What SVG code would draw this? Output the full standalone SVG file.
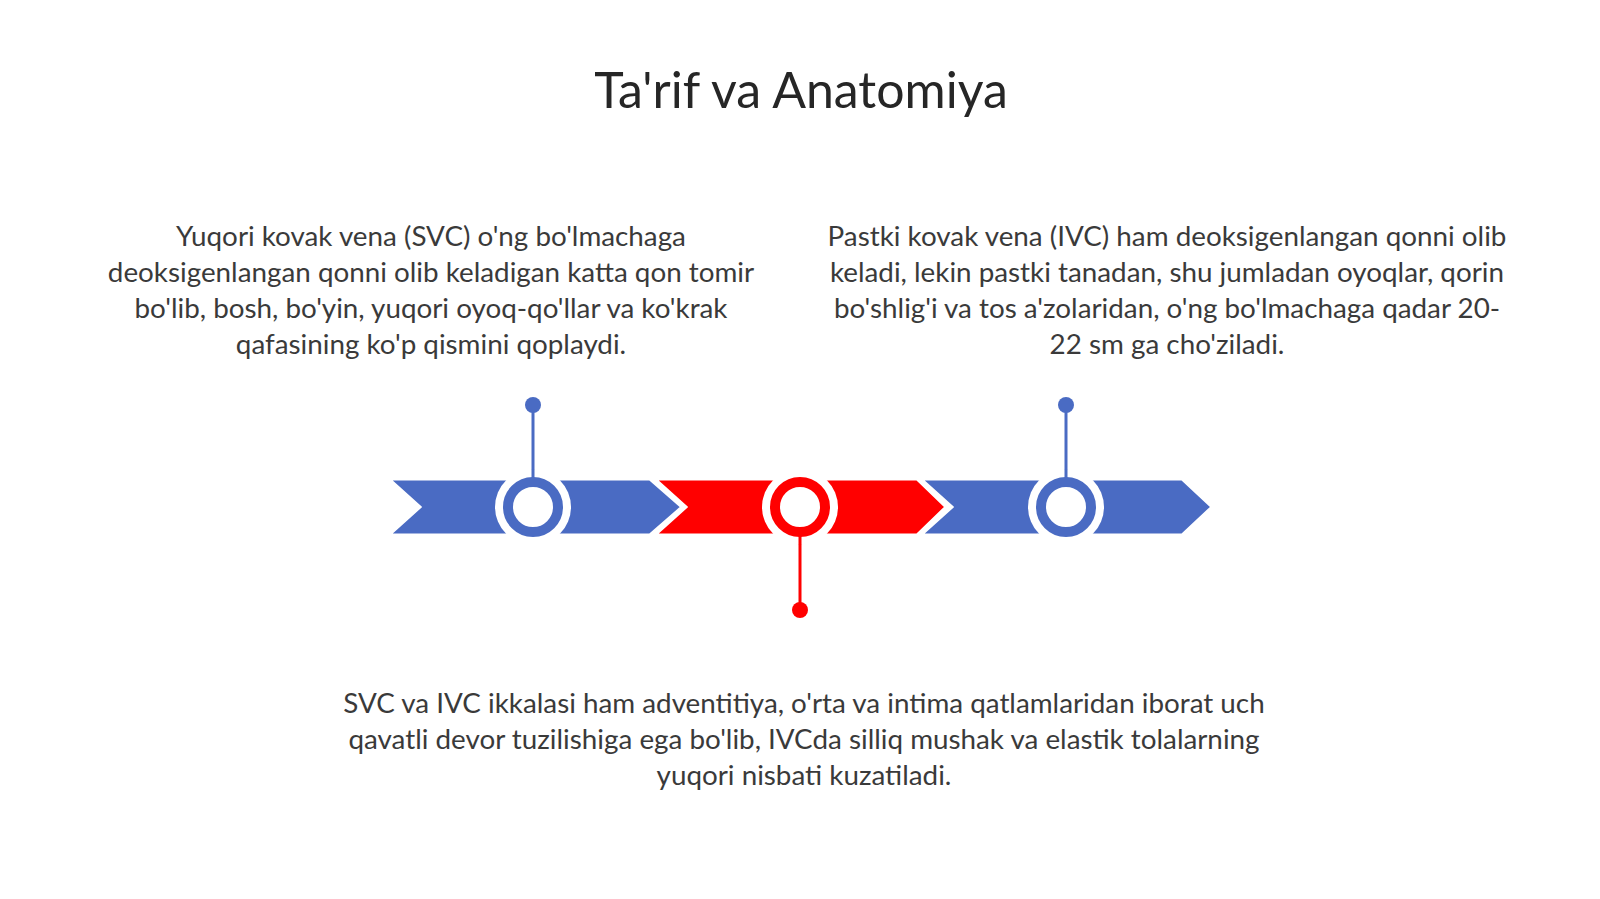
<svg xmlns="http://www.w3.org/2000/svg" width="1600" height="899" viewBox="0 0 1600 899">
  <style>
    .title { font-family: Lato, "Open Sans", "Liberation Sans", sans-serif; font-size: 50px; fill: #262626; text-anchor: middle; }
    .body { font-family: Lato, "Open Sans", "Liberation Sans", sans-serif; font-size: 27.8px; fill: #3a3a3a; text-anchor: middle; }
    .blue { fill: #4A6BC3; }
    .red { fill: #FF0000; }
    .seg { stroke: #FFFFFF; stroke-width: 3; stroke-linejoin: miter; }
    .halo { fill: #FFFFFF; }
    .ringB { fill: #FFFFFF; stroke: #4A6BC3; stroke-width: 10; }
    .ringR { fill: #FFFFFF; stroke: #FF0000; stroke-width: 10; }
    .stemB { stroke: #4A6BC3; stroke-width: 3; }
    .stemR { stroke: #FF0000; stroke-width: 3; }
  </style>
  <rect x="0" y="0" width="1600" height="899" fill="#FFFFFF"/>

  <g id="title">
    <text class="title" x="801" y="108">Ta'rif va Anatomiya</text>
  </g>

  <g id="text-svc">
    <text class="body" x="431" y="246">Yuqori kovak vena (SVC) o'ng bo'lmachaga</text>
    <text class="body" x="431" y="282">deoksigenlangan qonni olib keladigan katta qon tomir</text>
    <text class="body" x="431" y="318">bo'lib, bosh, bo'yin, yuqori oyoq-qo'llar va ko'krak</text>
    <text class="body" x="431" y="354">qafasining ko'p qismini qoplaydi.</text>
  </g>

  <g id="text-ivc">
    <text class="body" x="1167" y="246">Pastki kovak vena (IVC) ham deoksigenlangan qonni olib</text>
    <text class="body" x="1167" y="282">keladi, lekin pastki tanadan, shu jumladan oyoqlar, qorin</text>
    <text class="body" x="1167" y="318">bo'shlig'i va tos a'zolaridan, o'ng bo'lmachaga qadar 20-</text>
    <text class="body" x="1167" y="354">22 sm ga cho'ziladi.</text>
  </g>

  <g id="text-wall">
    <text class="body" x="804" y="713">SVC va IVC ikkalasi ham adventitiya, o'rta va intima qatlamlaridan iborat uch</text>
    <text class="body" x="804" y="749">qavatli devor tuzilishiga ega bo'lib, IVCda silliq mushak va elastik tolalarning</text>
    <text class="body" x="804" y="785">yuqori nisbati kuzatiladi.</text>
  </g>

  <g id="segment-1">
    <polygon class="blue seg" points="389,479 650,479 682,507 650,535 389,535 420,507"/>
  </g>
  <g id="segment-2">
    <polygon class="red seg" points="655,479 917,479 946,507 917,535 655,535 686,507"/>
  </g>
  <g id="segment-3">
    <polygon class="blue seg" points="921,479 1182,479 1212,507 1182,535 921,535 952,507"/>
  </g>

  <g id="connectors">
    <line class="stemB" x1="533" y1="405" x2="533" y2="478"/>
    <line class="stemR" x1="800" y1="536" x2="800" y2="610"/>
    <line class="stemB" x1="1066" y1="405" x2="1066" y2="478"/>
  </g>

  <g id="marker-1">
    <circle class="halo" cx="533" cy="507" r="38"/>
    <circle class="ringB" cx="533" cy="507" r="25"/>
    <line class="stemB" x1="533" y1="469" x2="533" y2="478"/>
    <circle class="blue" cx="533" cy="405" r="8"/>
  </g>
  <g id="marker-2">
    <circle class="halo" cx="800" cy="507" r="38"/>
    <circle class="ringR" cx="800" cy="507" r="25"/>
    <line class="stemR" x1="800" y1="536" x2="800" y2="545"/>
    <circle class="red" cx="800" cy="610" r="8"/>
  </g>
  <g id="marker-3">
    <circle class="halo" cx="1066" cy="507" r="38"/>
    <circle class="ringB" cx="1066" cy="507" r="25"/>
    <line class="stemB" x1="1066" y1="469" x2="1066" y2="478"/>
    <circle class="blue" cx="1066" cy="405" r="8"/>
  </g>
</svg>
